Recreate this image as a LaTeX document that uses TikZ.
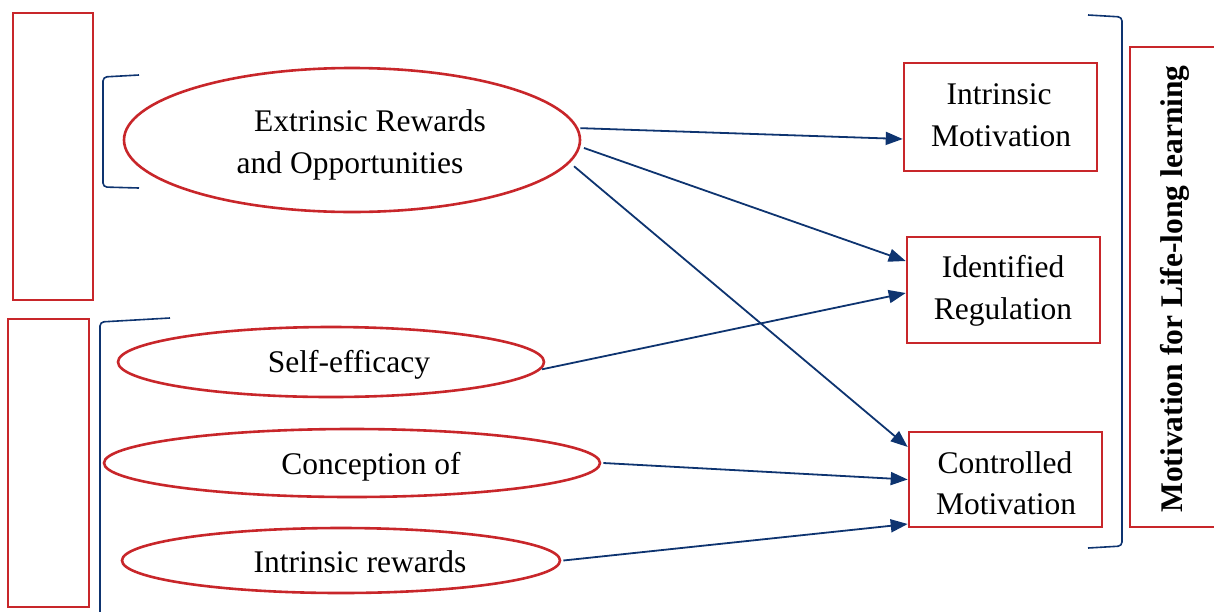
\documentclass[tikz,border=0pt]{standalone}
\usepackage{fontspec}
\setmainfont{Liberation Serif}
\usetikzlibrary{shapes.geometric,arrows.meta}
\definecolor{rred}{RGB}{200,38,42}
\definecolor{nblue}{RGB}{14,52,112}
\begin{document}
\begin{tikzpicture}[x=1pt,y=-1pt,
  oval/.style={draw=rred,line width=2.6pt,ellipse,inner sep=0pt},
  rbox/.style={draw=rred,line width=2.6pt,inner sep=0pt},
  txt/.style={font=\fontsize{31.5}{38}\selectfont,anchor=base,inner sep=0pt},
  arr/.style={draw=nblue,line width=1.8pt,-{Triangle[length=17pt,width=13pt]}},
  brk/.style={draw=nblue,line width=1.6pt,rounded corners=4pt}]
\useasboundingbox (0,0) rectangle (1214,611);
% left boxes
\node[rbox,minimum width=80pt,minimum height=287pt] (l1) at (53,156.5) {};
\node[rbox,minimum width=81pt,minimum height=288pt] (l2) at (48.5,463) {};
% brackets
\draw[brk] (139,75) -- (103,77) -- (103,187) -- (139,188);
\draw[brk] (170,318) -- (100,322) -- (100,615);
\draw[brk] (1088,15) -- (1122,17) -- (1122,546) -- (1088,548);
% ellipses
\node[oval,minimum width=456pt,minimum height=144pt] (e1) at (352,140) {};
\node[oval,minimum width=426pt,minimum height=70pt] (e2) at (331,362) {};
\node[oval,minimum width=496pt,minimum height=68pt] (e3) at (352,463) {};
\node[oval,minimum width=438pt,minimum height=65pt] (e4) at (341,560.5) {};
% right boxes
\node[rbox,minimum width=193pt,minimum height=108pt] (b1) at (1000.5,117) {};
\node[rbox,minimum width=193pt,minimum height=106pt] (b2) at (1003.5,290) {};
\node[rbox,minimum width=193pt,minimum height=95pt] (b3) at (1005.5,479.5) {};
\node[rbox,minimum width=110pt,minimum height=480pt] (rb) at (1185,287) {};
% texts
\node[txt] at (370,131) {Extrinsic Rewards};
\node[txt] at (350,173) {and Opportunities};
\node[txt] at (349,372) {Self-efficacy};
\node[txt] at (371,474) {Conception of};
\node[txt] at (360,572) {Intrinsic rewards};
\node[txt] at (999,104) {Intrinsic};
\node[txt] at (1001,146) {Motivation};
\node[txt] at (1003,277) {Identified};
\node[txt] at (1003,319) {Regulation};
\node[txt] at (1005,473) {Controlled};
\node[txt] at (1006,514) {Motivation};
\node[txt,rotate=90,font=\bfseries\fontsize{31.5}{38}\selectfont] at (1182,289) {Motivation for Life-long learning};
% arrows
\draw[arr] ([xshift=2pt]e1.3) -- ([yshift=-22pt]b1.west);
\draw[arr] ([xshift=4pt]e1.-2.5) -- ([yshift=29pt]b2.west);
\draw[arr] ([xshift=8pt]e1.-7) -- ([yshift=32.5pt]b3.west);
\draw[arr] ([xshift=1pt]e2.-2) -- ([yshift=-3pt]b2.west);
\draw[arr] ([xshift=2pt]e3.east) -- (b3.west);
\draw[arr] ([xshift=2pt]e4.east) -- ([yshift=-44.5pt]b3.west);
\end{tikzpicture}
\end{document}
